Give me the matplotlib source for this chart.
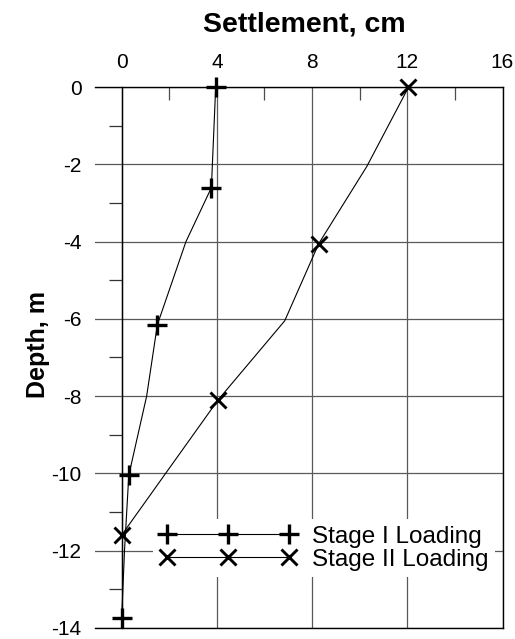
import matplotlib
matplotlib.use("Agg")
import matplotlib.pyplot as plt
from matplotlib.lines import Line2D
from matplotlib.ticker import MultipleLocator

plt.rcParams["font.family"] = ["Liberation Sans", "DejaVu Sans"]
plt.rcParams["axes.unicode_minus"] = False

# Stage I loading: full profile and the points carrying a marker
stage1_settle = [3.95, 3.77, 2.7, 1.5, 1.05, 0.3, 0.12, 0.0]
stage1_depth = [0.0, -2.6, -4.0, -6.15, -8.0, -10.05, -12.0, -13.75]
stage1_mark_settle = [3.95, 3.77, 1.5, 0.3, 0.0]
stage1_mark_depth = [0.0, -2.6, -6.15, -10.05, -13.75]

# Stage II loading
stage2_settle = [12.05, 10.3, 8.28, 6.85, 4.05, 1.85, 0.0]
stage2_depth = [0.0, -2.05, -4.05, -6.05, -8.1, -10.0, -11.6]
stage2_mark_settle = [12.05, 8.28, 4.05, 0.0]
stage2_mark_depth = [0.0, -4.05, -8.1, -11.6]

series_labels = ["Stage I Loading", "Stage II Loading"]

W, H = 515, 639
fig = plt.figure(figsize=(W / 100, H / 100), dpi=100)
ax = fig.add_axes([95 / W, 1 - 627.7 / H, (502.5 - 95) / W, (627.7 - 87.3) / H])

ax.set_xlim(-1.12, 16)
ax.set_ylim(-14, 0)

# --- Profiles --------------------------------------------------------------
ax.plot(stage1_settle, stage1_depth, color="k", lw=0.8, zorder=3)
ax.plot(stage1_mark_settle, stage1_mark_depth, ls="none", marker="+",
        ms=15, mew=2.4, color="k", zorder=4, clip_on=False)
ax.plot(stage2_settle, stage2_depth, color="k", lw=0.8, zorder=3)
ax.plot(stage2_mark_settle, stage2_mark_depth, ls="none", marker="x",
        ms=11, mew=2.1, color="k", zorder=4, clip_on=False)

# --- Axes / grid -----------------------------------------------------------
ax.xaxis.set_major_locator(MultipleLocator(4))
ax.xaxis.set_minor_locator(MultipleLocator(2))
ax.yaxis.set_major_locator(MultipleLocator(2))
ax.yaxis.set_minor_locator(MultipleLocator(1))
ax.grid(which="major", color="0.35", lw=0.9, zorder=1)

ax.xaxis.tick_top()
ax.tick_params(axis="x", which="major", length=0, pad=11, labelsize=15)
ax.tick_params(axis="x", which="minor", direction="in", length=9.5,
               width=0.9, color="0.3")
ax.spines["left"].set_position(("data", 0))
ax.tick_params(axis="y", which="major", length=0, pad=29, labelsize=15)
ax.tick_params(axis="y", which="minor", direction="out", length=9.4,
               width=0.9, color="0.2")
for s in ax.spines.values():
    s.set_linewidth(1.0)
    s.set_color("k")

# --- Legend ----------------------------------------------------------------
handles = [
    Line2D([], [], color="k", lw=0.8, marker="+", ms=15, mew=2.4),
    Line2D([], [], color="k", lw=0.8, marker="x", ms=11, mew=2.1),
]
leg = ax.legend(handles, series_labels, loc="upper left",
                bbox_to_anchor=(0.1425, 0.2012), borderaxespad=0,
                numpoints=3, handlelength=5.62, handletextpad=0.65,
                labelspacing=0.045, borderpad=0.27, fontsize=17.5,
                frameon=True, fancybox=False, framealpha=1)
leg.get_frame().set_facecolor("white")
leg.get_frame().set_edgecolor("none")
leg.set_zorder(5)

# --- Titles ----------------------------------------------------------------
fig.text(304 / W, 1 - 31.7 / H, "Settlement, cm", ha="center",
         va="baseline", fontsize=20.5, fontweight="bold")
fig.text(38 / W, 1 - 345 / H, "Depth, m", ha="center", va="center",
         rotation=90, fontsize=18, fontweight="bold")

fig.savefig("out.png", dpi=100)
